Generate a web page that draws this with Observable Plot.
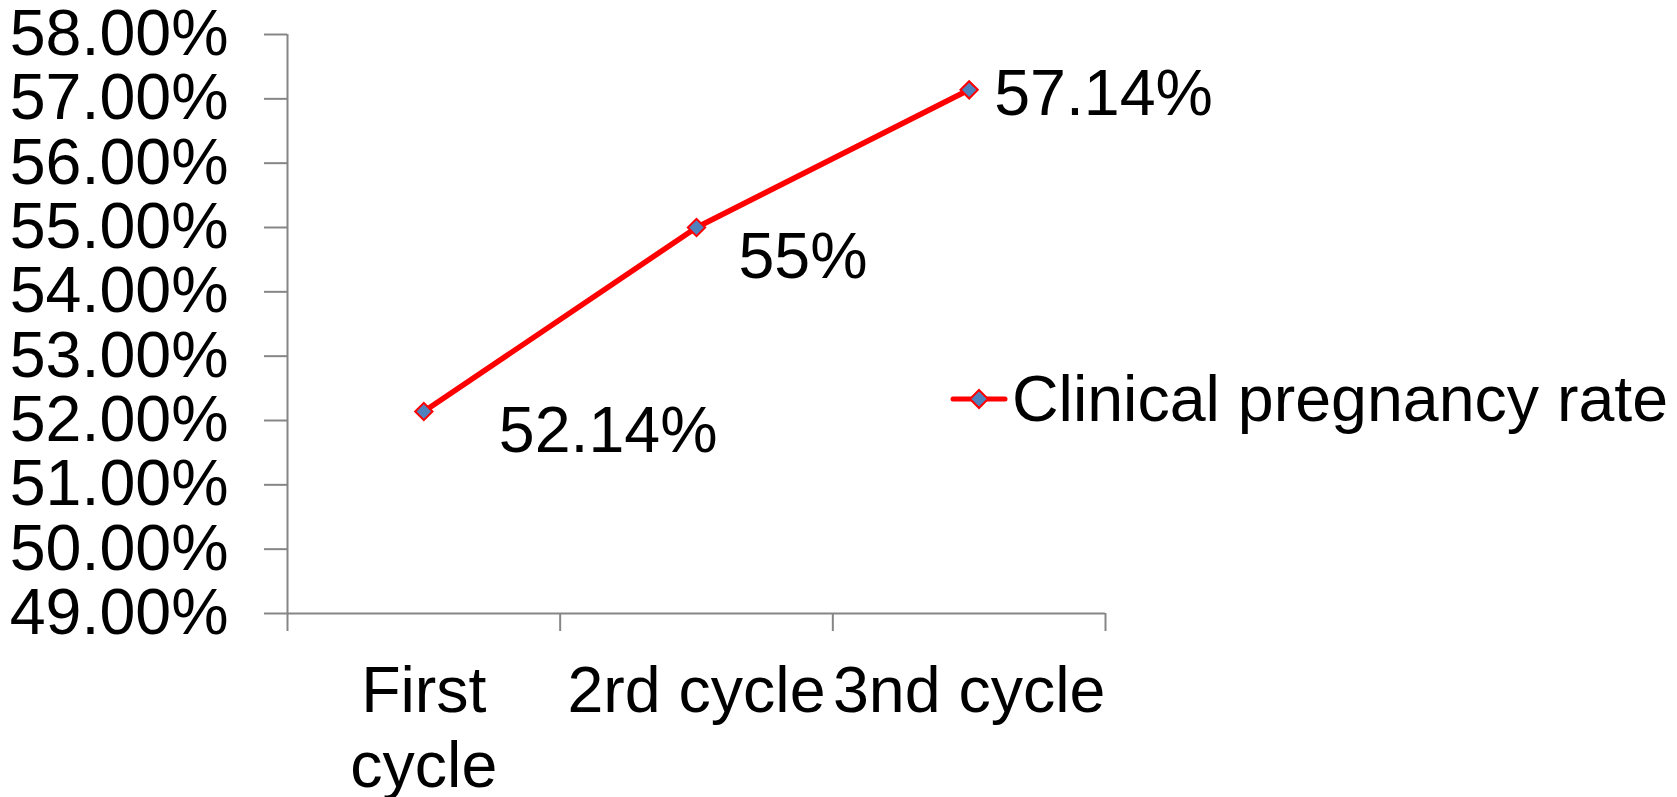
<!DOCTYPE html>
<html>
<head>
<meta charset="utf-8">
<script src="https://cdn.jsdelivr.net/npm/d3@7"></script>
<script src="https://cdn.jsdelivr.net/npm/@observablehq/plot@0.6"></script>
<style>
  html, body { margin: 0; padding: 0; background: #fff; }
  #wrap { position: relative; width: 1677px; height: 797px; overflow: hidden; font-family: "Liberation Sans", Arial, sans-serif; }
  #legend { position: absolute; left: 950px; top: 362px; display: flex; align-items: center; font-size: 64.5px; color: #000; white-space: nowrap; }
</style>
</head>
<body>
<div id="wrap"><div id="legend"></div></div>
<script>
// ---- data ----
const categories = ["First\ncycle", "2rd cycle", "3nd cycle"];
const rates = [52.14, 55, 57.14];
const rateLabels = ["52.14%", "55%", "57.14%"];
const yTicks = [49, 50, 51, 52, 53, 54, 55, 56, 57, 58];
const seriesName = "Clinical pregnancy rate";

// ---- styling (label nudges) ----
const labelOffsets = [[75, 20], [42, 30], [25, 5]];

const data = categories.map((c, i) => ({cat: c, pos: i + 0.5, rate: rates[i], label: rateLabels[i]}));
const FONT = 64.5;
const AXIS = "#868686";
const RED = "#FF0000";
const BLUE = "#4F81BD";

const plot = Plot.plot({
  width: 1677,
  height: 797,
  marginLeft: 287,
  marginRight: 572,
  marginTop: 34,
  marginBottom: 184,
  x: {domain: [0, categories.length]},
  y: {domain: [49, 58]},
  style: {fontFamily: "'Liberation Sans', Arial, sans-serif", color: "#000", background: "#fff", overflow: "visible"},
  marks: [
    Plot.axisY({ticks: yTicks, tickFormat: d => d.toFixed(2) + "%", tickSize: 23, tickPadding: 36, fontSize: FONT, stroke: AXIS, strokeWidth: 2, strokeOpacity: 1, label: null}),
    Plot.axisX({ticks: d3.range(0, categories.length + 1), tickFormat: () => "", tickSize: 18, stroke: AXIS, strokeWidth: 2, strokeOpacity: 1, label: null}),
    Plot.axisX({ticks: data.map(d => d.pos), tickFormat: (d) => categories[Math.floor(d)], tickSize: 0, tickPadding: 45, fontSize: FONT, lineHeight: 1.165, label: null}),
    Plot.ruleX([0], {y1: 49, y2: 58, stroke: AXIS, strokeWidth: 2}),
    Plot.ruleY([49], {x1: 0, x2: categories.length, stroke: AXIS, strokeWidth: 2}),
    Plot.line(data, {x: "pos", y: "rate", stroke: RED, strokeWidth: 5.5}),
    Plot.dot(data, {x: "pos", y: "rate", symbol: "diamond2", r: 7.8, fill: BLUE, stroke: RED, strokeWidth: 2}),
    ...data.map((d, i) => Plot.text([d], {x: "pos", y: "rate", text: "label", textAnchor: "start", dx: labelOffsets[i][0], dy: labelOffsets[i][1], fontSize: FONT, fill: "#000"}))
  ]
});
document.getElementById("wrap").prepend(plot);
plot.style.position = "absolute";
plot.style.left = "0px";
plot.style.top = "0px";

// legend
const lg = document.getElementById("legend");
lg.innerHTML = `<svg width="58" height="24" style="margin-right:4px"><line x1="3" y1="12" x2="55" y2="12" stroke="${RED}" stroke-width="5" stroke-linecap="round"/><path d="M29,3 L38,12 L29,21 L20,12 Z" fill="${BLUE}" stroke="${RED}" stroke-width="2"/></svg><span>${seriesName}</span>`;
</script>
</body>
</html>
